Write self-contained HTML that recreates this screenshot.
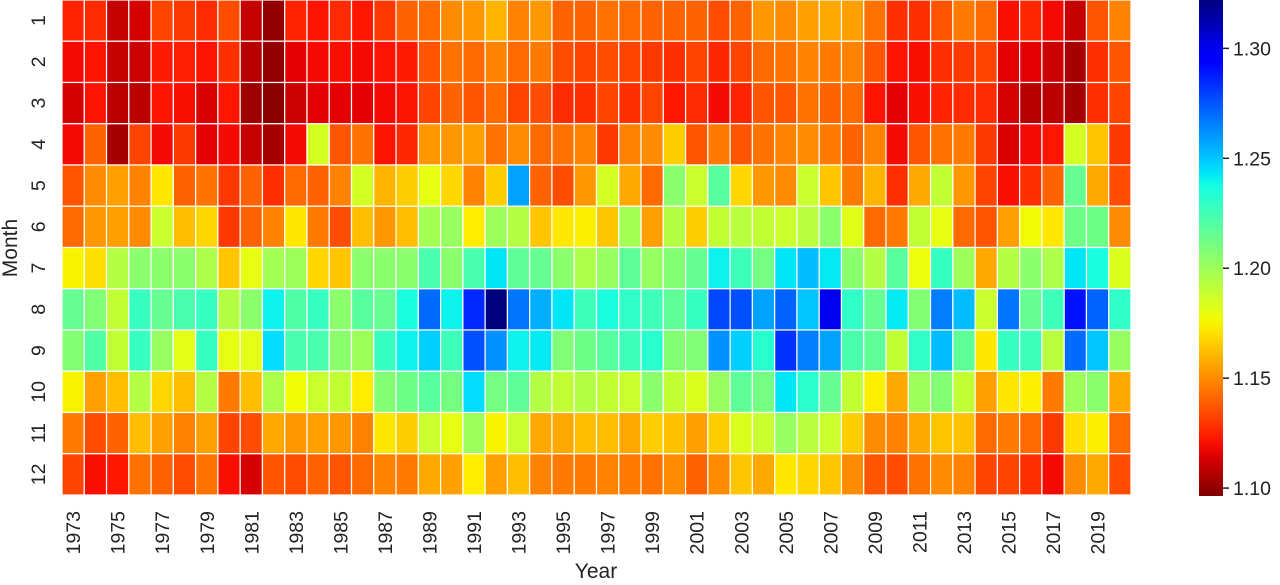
<!DOCTYPE html>
<html><head><meta charset="utf-8"><style>
html,body{margin:0;padding:0;background:#fff;}
svg text{font-family:"Liberation Sans",Arial,sans-serif;fill:#222;}
</style></head><body>
<svg id="chart" width="1280" height="580" viewBox="0 0 1280 580" xmlns="http://www.w3.org/2000/svg">
<defs><linearGradient id="cbgrad" x1="0" y1="1" x2="0" y2="0"></linearGradient></defs>
<g id="cells"></g>
<g id="xticks"></g>
<g id="yticks"></g>
<text x="596" y="578" font-size="21" text-anchor="middle">Year</text>
<text transform="translate(17,248) rotate(-90)" font-size="21" text-anchor="middle">Month</text>
<rect x="1199" y="0" width="24" height="496" fill="url(#cbgrad)"/>
<g id="cbticks"></g>
</svg>
<script>
const years = [];
for (let y = 1973; y <= 2020; y++) years.push(y);
const months = [1,2,3,4,5,6,7,8,9,10,11,12];
const cbTickValues = [1.10,1.15,1.20,1.25,1.30];
const cbTickLabels = ["1.10","1.15","1.20","1.25","1.30"];
const vmin = 1.0964, vmax = 1.322;
const m1 = [1.125,1.127,1.11,1.113,1.133,1.13,1.127,1.135,1.11,1.10,1.125,1.121,1.127,1.122,1.13,1.14,1.142,1.15,1.153,1.16,1.148,1.153,1.14,1.14,1.144,1.142,1.14,1.14,1.14,1.135,1.14,1.153,1.15,1.155,1.157,1.155,1.144,1.128,1.128,1.137,1.146,1.142,1.12,1.126,1.119,1.11,1.137,1.148];
const m2 = [1.119,1.121,1.11,1.111,1.123,1.124,1.121,1.128,1.107,1.10,1.116,1.119,1.12,1.119,1.121,1.123,1.137,1.144,1.142,1.148,1.142,1.146,1.135,1.133,1.135,1.133,1.13,1.128,1.133,1.126,1.133,1.142,1.144,1.148,1.146,1.148,1.137,1.121,1.12,1.128,1.13,1.133,1.116,1.116,1.111,1.104,1.128,1.137];
const m3 = [1.113,1.121,1.108,1.108,1.121,1.12,1.114,1.122,1.102,1.099,1.111,1.116,1.116,1.116,1.119,1.121,1.133,1.14,1.137,1.142,1.133,1.135,1.127,1.128,1.133,1.128,1.133,1.122,1.127,1.119,1.125,1.137,1.137,1.144,1.14,1.142,1.121,1.116,1.12,1.125,1.127,1.127,1.113,1.107,1.108,1.104,1.128,1.133];
const m4 = [1.119,1.14,1.104,1.133,1.119,1.13,1.116,1.119,1.11,1.104,1.119,1.185,1.137,1.144,1.121,1.126,1.153,1.153,1.155,1.144,1.15,1.142,1.144,1.148,1.13,1.148,1.15,1.166,1.137,1.146,1.137,1.144,1.148,1.15,1.146,1.14,1.148,1.119,1.137,1.144,1.146,1.13,1.114,1.119,1.122,1.185,1.164,1.13];
const m5 = [1.137,1.15,1.155,1.148,1.172,1.14,1.144,1.13,1.14,1.128,1.142,1.14,1.148,1.185,1.16,1.166,1.18,1.168,1.148,1.166,1.258,1.14,1.135,1.153,1.185,1.157,1.142,1.205,1.188,1.219,1.168,1.153,1.15,1.188,1.164,1.146,1.16,1.128,1.157,1.19,1.153,1.133,1.12,1.128,1.14,1.215,1.157,1.135];
const m6 = [1.142,1.153,1.155,1.15,1.188,1.162,1.168,1.13,1.14,1.148,1.172,1.146,1.135,1.162,1.153,1.162,1.198,1.202,1.173,1.2,1.194,1.164,1.172,1.174,1.164,1.198,1.155,1.194,1.166,1.19,1.192,1.19,1.188,1.192,1.205,1.182,1.142,1.146,1.19,1.18,1.142,1.137,1.155,1.177,1.172,1.213,1.213,1.15];
const m7 = [1.175,1.17,1.194,1.205,1.205,1.205,1.196,1.164,1.18,1.198,1.2,1.168,1.164,1.205,1.205,1.205,1.223,1.205,1.223,1.243,1.217,1.215,1.205,1.196,1.202,1.217,1.202,1.207,1.215,1.24,1.226,1.211,1.243,1.252,1.242,1.205,1.194,1.219,1.178,1.228,1.2,1.157,1.194,1.205,1.196,1.243,1.236,1.183];
const m8 = [1.215,1.208,1.19,1.228,1.215,1.223,1.228,1.194,1.205,1.24,1.221,1.228,1.205,1.219,1.215,1.236,1.27,1.24,1.285,1.322,1.268,1.255,1.243,1.226,1.236,1.23,1.226,1.217,1.228,1.278,1.276,1.258,1.272,1.25,1.30,1.23,1.215,1.242,1.207,1.266,1.252,1.188,1.268,1.215,1.226,1.29,1.272,1.23];
const m9 = [1.207,1.221,1.19,1.228,1.202,1.181,1.228,1.18,1.181,1.245,1.223,1.223,1.205,1.2,1.228,1.24,1.248,1.226,1.276,1.262,1.24,1.242,1.208,1.213,1.219,1.226,1.232,1.207,1.208,1.262,1.248,1.232,1.283,1.266,1.258,1.223,1.217,1.19,1.23,1.252,1.217,1.172,1.228,1.226,1.192,1.27,1.25,1.202];
const m10 = [1.175,1.155,1.162,1.194,1.168,1.162,1.194,1.146,1.162,1.196,1.177,1.188,1.19,1.173,1.207,1.213,1.219,1.211,1.245,1.211,1.217,1.194,1.19,1.194,1.19,1.188,1.205,1.19,1.183,1.202,1.217,1.211,1.243,1.232,1.215,1.19,1.174,1.157,1.2,1.207,1.19,1.155,1.172,1.174,1.146,1.2,1.205,1.157];
const m11 = [1.146,1.135,1.14,1.162,1.155,1.148,1.155,1.133,1.135,1.157,1.153,1.155,1.153,1.148,1.172,1.166,1.188,1.18,1.2,1.175,1.188,1.157,1.157,1.162,1.162,1.157,1.166,1.163,1.155,1.166,1.183,1.188,1.202,1.192,1.188,1.166,1.15,1.148,1.157,1.164,1.163,1.142,1.146,1.142,1.13,1.17,1.174,1.142];
const m12 = [1.133,1.12,1.122,1.144,1.14,1.135,1.144,1.12,1.113,1.137,1.135,1.14,1.137,1.142,1.148,1.146,1.157,1.155,1.173,1.155,1.162,1.148,1.146,1.146,1.148,1.146,1.144,1.15,1.14,1.15,1.164,1.157,1.172,1.168,1.164,1.15,1.137,1.135,1.144,1.15,1.148,1.133,1.133,1.128,1.119,1.15,1.157,1.135];
const monthValues = [m1,m2,m3,m4,m5,m6,m7,m8,m9,m10,m11,m12];

const NS = "http://www.w3.org/2000/svg";
const X0 = 62, X1 = 1131, Y0 = 0, Y1 = 495;
const cw = (X1 - X0) / years.length, ch = (Y1 - Y0) / months.length;
function xScale(i){ return X0 + i * cw; }
function yScale(j){ return Y0 + j * ch; }
const CB_TOP = 0, CB_BOT = 496;
function cbScale(v){ return CB_BOT - (v - vmin) / (vmax - vmin) * (CB_BOT - CB_TOP); }

function interp(pts, t){
  for (let k = 1; k < pts.length; k++){
    if (t <= pts[k][0]){
      const a = pts[k-1], b = pts[k];
      return a[1] + (b[1]-a[1]) * (t-a[0]) / (b[0]-a[0]);
    }
  }
  return pts[pts.length-1][1];
}
const R = [[0,0],[0.35,0],[0.66,1],[0.89,1],[1,0.5]];
const G = [[0,0],[0.125,0],[0.375,1],[0.64,1],[0.91,0],[1,0]];
const B = [[0,0.5],[0.11,1],[0.34,1],[0.65,0],[1,0]];
function color(v){
  let t = (v - vmin) / (vmax - vmin);
  t = Math.max(0, Math.min(1, t));
  const tp = 1 - t;
  const r = Math.round(interp(R,tp)*255), g = Math.round(interp(G,tp)*255), b = Math.round(interp(B,tp)*255);
  return `rgb(${r},${g},${b})`;
}

const cells = document.getElementById('cells');
monthValues.forEach((row, j) => {
  row.forEach((v, i) => {
    const r = document.createElementNS(NS, 'rect');
    r.setAttribute('x', xScale(i));
    r.setAttribute('y', yScale(j));
    r.setAttribute('width', cw);
    r.setAttribute('height', ch);
    r.setAttribute('fill', color(v));
    r.setAttribute('stroke', '#fff');
    r.setAttribute('stroke-width', '1.2');
    
    
    cells.appendChild(r);
  });
});

const xt = document.getElementById('xticks');
years.forEach((y, i) => {
  if (i % 2 !== 0) return;
  const cx = xScale(i) + cw / 2;
  const t = document.createElementNS(NS, 'text');
  t.setAttribute('transform', `translate(${cx + 7},511) rotate(-90)`);
  t.setAttribute('font-size', '19.5');
  t.setAttribute('text-anchor', 'end');
  t.textContent = y;
  
  
  xt.appendChild(t);
});

const yt = document.getElementById('yticks');
months.forEach((m, j) => {
  const cy = yScale(j) + ch / 2;
  const t = document.createElementNS(NS, 'text');
  t.setAttribute('transform', `translate(45,${cy}) rotate(-90)`);
  t.setAttribute('font-size', '19.5');
  t.setAttribute('text-anchor', 'middle');
  t.textContent = m;
  
  
  yt.appendChild(t);
});

const grad = document.getElementById('cbgrad');
for (let k = 0; k <= 40; k++){
  const v = vmin + (vmax - vmin) * k / 40;
  const s = document.createElementNS(NS, 'stop');
  s.setAttribute('offset', (k / 40 * 100) + '%');
  s.setAttribute('stop-color', color(v));
  grad.appendChild(s);
}
const cbt = document.getElementById('cbticks');
cbTickValues.forEach((v, k) => {
  const y = cbScale(v);
  const l = document.createElementNS(NS, 'line');
  l.setAttribute('x1', 1223); l.setAttribute('x2', 1229);
  l.setAttribute('y1', y); l.setAttribute('y2', y);
  l.setAttribute('stroke', '#222'); l.setAttribute('stroke-width', '1.5');
  
  
  cbt.appendChild(l);
  const t = document.createElementNS(NS, 'text');
  t.setAttribute('x', 1233); t.setAttribute('y', y + 7);
  t.setAttribute('font-size', '19.5');
  t.textContent = cbTickLabels[k];
  
  
  cbt.appendChild(t);
});
</script>
</body></html>
